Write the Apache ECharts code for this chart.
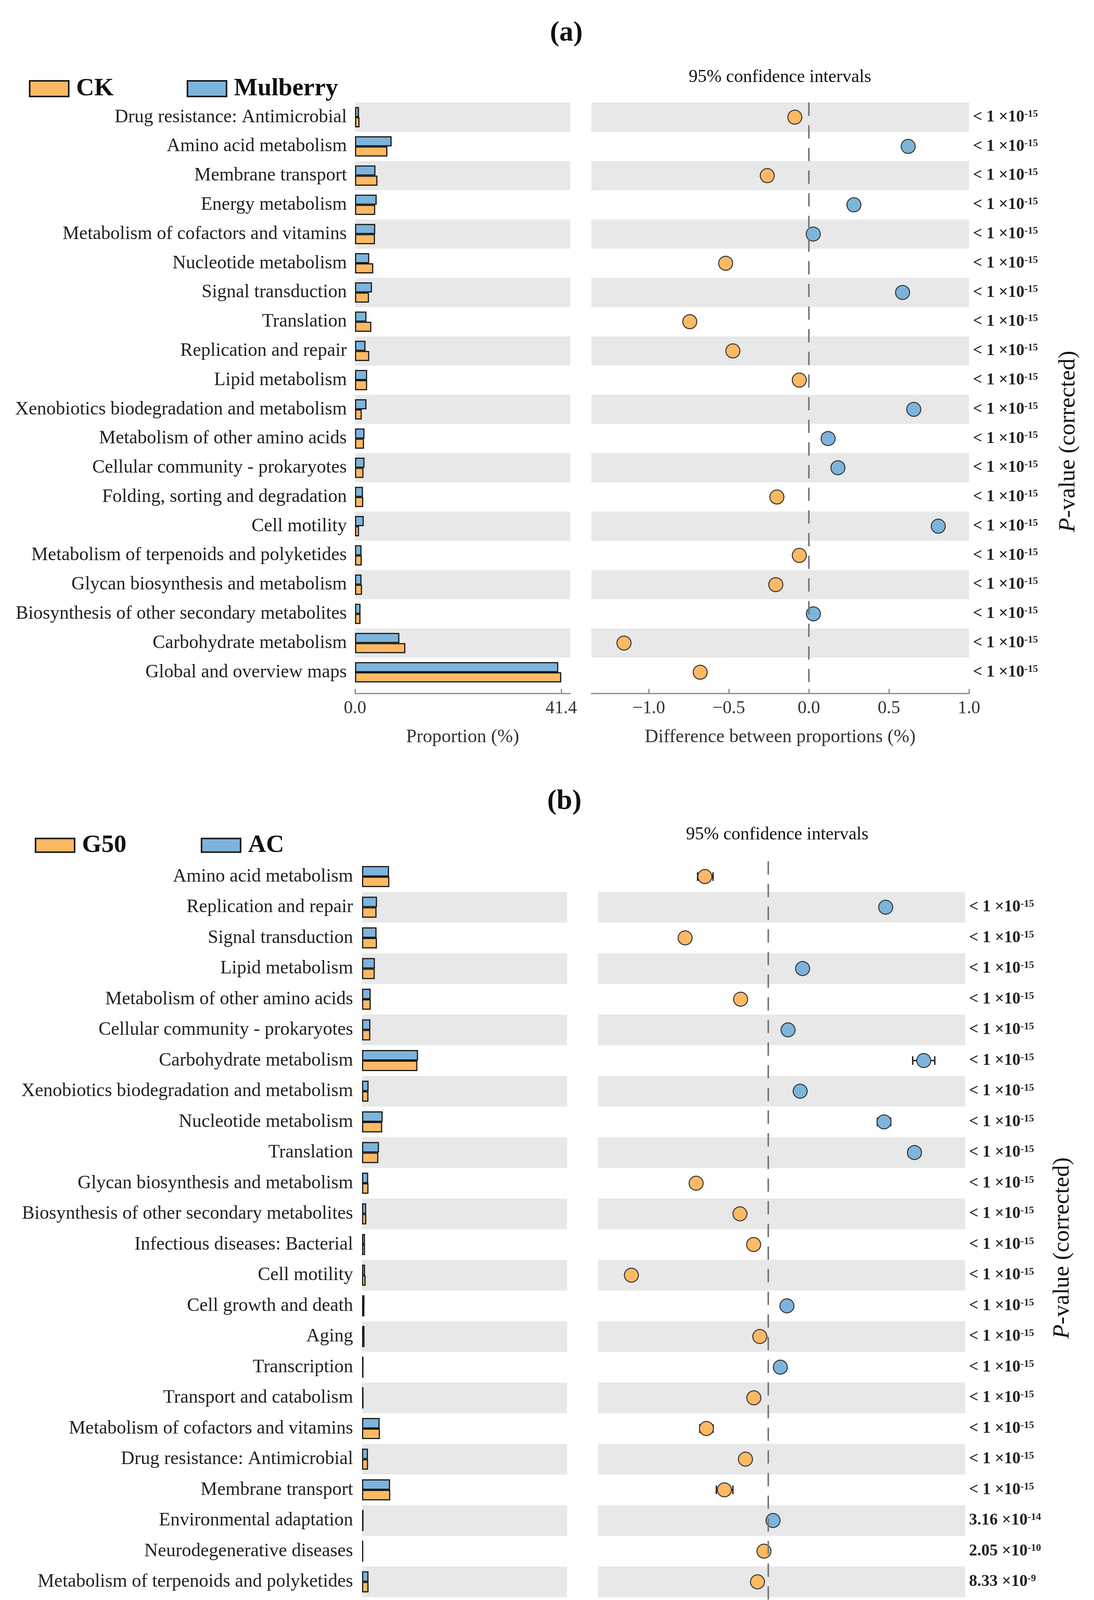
<!DOCTYPE html>
<html>
<head>
<meta charset="utf-8">
<title>STAMP differences</title>
<script src="https://cdn.jsdelivr.net/npm/echarts@6/dist/echarts.min.js"></script>
<style>
  body { margin: 0; background: #fff; }
</style>
</head>
<body>
<div id="box" style="width: 2801px; height: 4528px;"></div>
<script>
// ---------- panel (a): CK vs Mulberry ----------
var catA = ['Drug resistance: Antimicrobial', 'Amino acid metabolism', 'Membrane transport', 'Energy metabolism',
  'Metabolism of cofactors and vitamins', 'Nucleotide metabolism', 'Signal transduction', 'Translation',
  'Replication and repair', 'Lipid metabolism', 'Xenobiotics biodegradation and metabolism',
  'Metabolism of other amino acids', 'Cellular community - prokaryotes', 'Folding, sorting and degradation',
  'Cell motility', 'Metabolism of terpenoids and polyketides', 'Glycan biosynthesis and metabolism',
  'Biosynthesis of other secondary metabolites', 'Carbohydrate metabolism', 'Global and overview maps']
var ckA = [0.9, 6.5, 4.5, 4.05, 4.0, 3.66, 2.8, 3.27, 2.85, 2.43, 1.35, 1.8, 1.7, 1.65, 0.8, 1.35, 1.4, 1.1, 10.1, 41.4]
var mulA = [0.8, 7.35, 4.1, 4.35, 4.05, 2.85, 3.4, 2.3, 2.1, 2.43, 2.3, 1.9, 1.9, 1.6, 1.75, 1.3, 1.3, 1.1, 8.9, 40.8]
var diffA = [-0.088, 0.62, -0.26, 0.281, 0.027, -0.52, 0.585, -0.744, -0.475, -0.06, 0.655, 0.12, 0.181, -0.2,
  0.808, -0.06, -0.207, 0.028, -1.155, -0.679]
var pMantA = ['< 1', '< 1', '< 1', '< 1', '< 1', '< 1', '< 1', '< 1', '< 1', '< 1',
  '< 1', '< 1', '< 1', '< 1', '< 1', '< 1', '< 1', '< 1', '< 1', '< 1']
var pExpA = ['-15', '-15', '-15', '-15', '-15', '-15', '-15', '-15', '-15', '-15',
  '-15', '-15', '-15', '-15', '-15', '-15', '-15', '-15', '-15', '-15']
var barTicksA = [0, 41.4]
var diffTicksA = [-1.0, -0.5, 0.0, 0.5, 1.0]

// ---------- panel (b): G50 vs AC ----------
var catB = ['Amino acid metabolism', 'Replication and repair', 'Signal transduction', 'Lipid metabolism',
  'Metabolism of other amino acids', 'Cellular community - prokaryotes', 'Carbohydrate metabolism',
  'Xenobiotics biodegradation and metabolism', 'Nucleotide metabolism', 'Translation',
  'Glycan biosynthesis and metabolism', 'Biosynthesis of other secondary metabolites',
  'Infectious diseases: Bacterial', 'Cell motility', 'Cell growth and death', 'Aging', 'Transcription',
  'Transport and catabolism', 'Metabolism of cofactors and vitamins', 'Drug resistance: Antimicrobial',
  'Membrane transport', 'Environmental adaptation', 'Neurodegenerative diseases',
  'Metabolism of terpenoids and polyketides', 'Global and overview maps', 'Folding, sorting and degradation',
  'Energy metabolism']
var g50B = [5.65, 3.0, 3.08, 2.63, 1.8, 1.71, 11.46, 1.32, 4.17, 3.37, 1.33, 0.88, 0.61, 0.74, 0.48, 0.51, 0.29,
  0.31, 3.7, 1.24, 5.84, 0.3, 0.25, 1.34, 40.4, 1.63, 3.81]
var acB = [5.59, 3.1, 3.0, 2.66, 1.78, 1.73, 11.6, 1.35, 4.27, 3.5, 1.27, 0.85, 0.6, 0.62, 0.5, 0.5, 0.3,
  0.3, 3.64, 1.22, 5.8, 0.3, 0.25, 1.33, 40.36, 1.64, 3.8]
var diffB = [-0.0574, 0.1065, -0.0753, 0.0312, -0.025, 0.018, 0.141, 0.029, 0.105, 0.1326, -0.0653, -0.0256,
  -0.0132, -0.124, 0.017, -0.0076, 0.011, -0.013, -0.056, -0.0206, -0.0397, 0.0044, -0.0038, -0.0097,
  -0.0415, 0.0082, -0.0074]
var ciLowB = [-0.064, 0.104, -0.078, 0.029, -0.027, 0.016, 0.131, 0.027, 0.099, 0.127, -0.068, -0.028,
  -0.015, -0.127, 0.015, -0.01, 0.009, -0.015, -0.062, -0.023, -0.047, 0.002, -0.006, -0.012,
  -0.058, 0.005, -0.0135]
var ciHighB = [-0.050, 0.109, -0.073, 0.033, -0.023, 0.02, 0.151, 0.031, 0.111, 0.138, -0.063, -0.023,
  -0.011, -0.121, 0.019, -0.005, 0.013, -0.011, -0.050, -0.018, -0.032, 0.007, -0.001, -0.007,
  -0.026, 0.011, -0.0015]
var pMantB = ['', '< 1', '< 1', '< 1', '< 1', '< 1', '< 1', '< 1', '< 1', '< 1', '< 1', '< 1', '< 1', '< 1',
  '< 1', '< 1', '< 1', '< 1', '< 1', '< 1', '< 1', '3.16', '2.05', '8.33', '4.69', '3.81', '6.89']
var pExpB = ['', '-15', '-15', '-15', '-15', '-15', '-15', '-15', '-15', '-15', '-15', '-15', '-15', '-15',
  '-15', '-15', '-15', '-15', '-15', '-15', '-15', '-14', '-10', '-9', '-8', '-5', '-3']
var barTicksB = [0, 40.4]
var diffTicksB = [-0.15, -0.10, -0.05, 0.00, 0.05, 0.10, 0.15]

var FONT = '"Liberation Serif", "Times New Roman", serif'
var ORANGE = '#fdb964'
var BLUE = '#7db4dc'
var BAND = '#e8e8e8'
var EDGE = '#1a1a1a'

var mCharts = echarts.init(document.querySelector('#box'))

function minusFmt(digits) {
  return function (v) {
    var s = Math.abs(v).toFixed(digits)
    return v < -1e-9 ? '\u2212' + s : s
  }
}

function pRich(mant, exp) {
  return function (value, index) {
    if (!mant[index]) return ''
    return '{m|' + mant[index] + ' \u00d710}{e|' + exp[index] + '}'
  }
}

// one half of the figure: bar grid + difference grid
function panel(k, p) {
  var bandColors = p.firstGray ? [BAND, 'rgba(255,255,255,0)'] : ['rgba(255,255,255,0)', BAND]
  var grids = [
    { left: p.barLeft, top: p.top, width: p.barWidth, height: p.height },
    { left: p.dotLeft, top: p.top, width: p.dotWidth, height: p.height }
  ]
  var tickLabel = { fontFamily: FONT, fontSize: 46, color: '#333', margin: 16 }
  var axisName = { fontFamily: FONT, fontSize: 48, color: '#333' }
  var xAxes = [{
    gridIndex: 2 * k, type: 'value', min: 0, max: p.barMax, offset: p.offset,
    name: 'Proportion (%)', nameLocation: 'middle', nameGap: p.nameGap, nameTextStyle: axisName,
    axisLine: { show: true, lineStyle: { color: '#888', width: 3 } },
    axisTick: { show: true, inside: true, length: 12, lineStyle: { color: '#888', width: 3 }, customValues: p.barTicks },
    axisLabel: Object.assign({ customValues: p.barTicks, formatter: function (v) { return v.toFixed(1) } }, tickLabel),
    splitLine: { show: false }
  }, {
    gridIndex: 2 * k + 1, type: 'value', min: p.dotMin, max: p.dotMax, offset: p.offset,
    name: 'Difference between proportions (%)', nameLocation: 'middle', nameGap: p.nameGap, nameTextStyle: axisName,
    axisLine: { show: true, lineStyle: { color: '#888', width: 3 } },
    axisTick: { show: true, inside: true, length: 12, lineStyle: { color: '#888', width: 3 }, customValues: p.dotTicks },
    axisLabel: Object.assign({ customValues: p.dotTicks, formatter: minusFmt(p.digits) }, tickLabel),
    splitLine: { show: false }
  }]
  var yAxes = [{
    gridIndex: 2 * k, type: 'category', data: p.cats, inverse: true,
    axisLine: { show: false }, axisTick: { show: false },
    axisLabel: { fontFamily: FONT, fontSize: 48, color: '#222', margin: p.labelMargin },
    splitArea: { show: true, areaStyle: { color: bandColors } }
  }, {
    gridIndex: 2 * k + 1, type: 'category', data: p.cats, inverse: true, position: 'right',
    axisLine: { show: false }, axisTick: { show: false },
    axisLabel: {
      margin: 10, align: 'left', formatter: pRich(p.pMant, p.pExp),
      rich: {
        m: { fontFamily: FONT, fontSize: 42, fontWeight: 'bold', color: '#222' },
        e: { fontFamily: FONT, fontSize: 26, fontWeight: 'bold', color: '#222', verticalAlign: 'top' }
      }
    },
    splitArea: { show: true, areaStyle: { color: bandColors } }
  }]
  var barStyle = function (c) { return { color: c, borderColor: EDGE, borderWidth: 3 } }
  var series = [{
    name: p.names[1], type: 'bar', xAxisIndex: 2 * k, yAxisIndex: 2 * k,
    data: p.blue, barWidth: p.barSize, barGap: '0%', itemStyle: barStyle(BLUE)
  }, {
    name: p.names[0], type: 'bar', xAxisIndex: 2 * k, yAxisIndex: 2 * k,
    data: p.orange, barWidth: p.barSize, barGap: '0%', itemStyle: barStyle(ORANGE)
  }]
  if (p.ciLow) {
    series.push({
      type: 'custom', xAxisIndex: 2 * k + 1, yAxisIndex: 2 * k + 1, z: 3,
      data: p.ciLow.map(function (lo, i) { return [lo, p.ciHigh[i], i] }),
      encode: { x: [0, 1], y: 2 },
      renderItem: function (params, api) {
        var a = api.coord([api.value(0), api.value(2)])
        var b = api.coord([api.value(1), api.value(2)])
        var h = 11
        var st = { stroke: '#222', lineWidth: 3.5 }
        return {
          type: 'group', children: [
            { type: 'line', shape: { x1: a[0], y1: a[1], x2: b[0], y2: b[1] }, style: st },
            { type: 'line', shape: { x1: a[0], y1: a[1] - h, x2: a[0], y2: a[1] + h }, style: st },
            { type: 'line', shape: { x1: b[0], y1: b[1] - h, x2: b[0], y2: b[1] + h }, style: st }
          ]
        }
      }
    })
  }
  series.push({
    type: 'scatter', xAxisIndex: 2 * k + 1, yAxisIndex: 2 * k + 1, z: 4,
    symbolSize: 36,
    data: p.diff.map(function (d, i) { return [d, i] }),
    itemStyle: {
      color: function (q) { return q.value[0] < 0 ? ORANGE : BLUE },
      borderColor: '#333', borderWidth: 2.5, opacity: 1
    },
    markLine: {
      silent: true, symbol: 'none', label: { show: false },
      lineStyle: { type: [34, 24], color: '#777', width: 4 },
      data: [{ xAxis: 0 }]
    }
  })
  var legends = [
    { left: p.legLeft[0], top: p.legTop, data: [p.names[0]] },
    { left: p.legLeft[1], top: p.legTop, data: [p.names[1]] }
  ].map(function (l) {
    return Object.assign(l, {
      orient: 'horizontal', icon: 'rect', itemWidth: 100, itemHeight: p.legH, selectedMode: false,
      itemStyle: { borderColor: EDGE, borderWidth: 4 },
      textStyle: { fontFamily: FONT, fontSize: 64, fontWeight: 'bold', color: '#111', padding: [0, 0, 0, 14] }
    })
  })
  return { grids: grids, xAxes: xAxes, yAxes: yAxes, series: series, legends: legends }
}

var pa = panel(0, {
  cats: catA, blue: mulA, orange: ckA, diff: diffA, pMant: pMantA, pExp: pExpA,
  names: ['CK', 'Mulberry'], firstGray: true,
  top: 262.6, height: 1495.8, offset: 17, nameGap: 88, labelMargin: 21,
  barLeft: 909, barWidth: 551, barMax: 43.2, barTicks: barTicksA, barSize: 26,
  dotLeft: 1514, dotWidth: 967, dotMin: -1.359, dotMax: 1.0, dotTicks: diffTicksA, digits: 1,
  legLeft: [69, 473], legTop: 190, legH: 40
})
var pb = panel(1, {
  cats: catB, blue: acB, orange: g50B, diff: diffB, pMant: pMantB, pExp: pExpB,
  ciLow: ciLowB, ciHigh: ciHighB,
  names: ['G50', 'AC'], firstGray: false,
  top: 2204.75, height: 2119.5, offset: 18, nameGap: 92, labelMargin: 23,
  barLeft: 927, barWidth: 525, barMax: 42.47, barTicks: barTicksB, barSize: 27,
  dotLeft: 1531, dotWidth: 940, dotMin: -0.1543, dotMax: 0.1785, dotTicks: diffTicksB, digits: 2,
  legLeft: [84, 509], legTop: 2127, legH: 35
})

function label(text, x, y, size, weight) {
  return {
    type: 'text', x: x, y: y, silent: true,
    style: {
      text: text, fontFamily: FONT, fontSize: size, fontWeight: weight || 'normal', fill: '#111',
      textAlign: 'center', textVerticalAlign: 'middle'
    }
  }
}
function pTitle(x, y) {
  return {
    type: 'text', x: x, y: y, rotation: Math.PI / 2, silent: true,
    style: {
      text: '{i|P}-value (corrected)', fontFamily: FONT, fontSize: 60, fill: '#111',
      textAlign: 'center', textVerticalAlign: 'middle',
      rich: { i: { fontFamily: FONT, fontSize: 60, fontStyle: 'italic', fill: '#111' } }
    }
  }
}

var option = {
  backgroundColor: '#fff',
  animation: false,
  legend: pa.legends.concat(pb.legends),
  grid: pa.grids.concat(pb.grids),
  xAxis: pa.xAxes.concat(pb.xAxes),
  yAxis: pa.yAxes.concat(pb.yAxes),
  series: pa.series.concat(pb.series),
  graphic: [
    label('(a)', 1450, 85, 72, 'bold'),
    label('(b)', 1445, 2052, 72, 'bold'),
    label('95% confidence intervals', 1997, 198, 46),
    label('95% confidence intervals', 1990, 2137, 46),
    pTitle(2735, 1130),
    pTitle(2720, 3195)
  ]
}
mCharts.setOption(option)
</script>
</body>
</html>
